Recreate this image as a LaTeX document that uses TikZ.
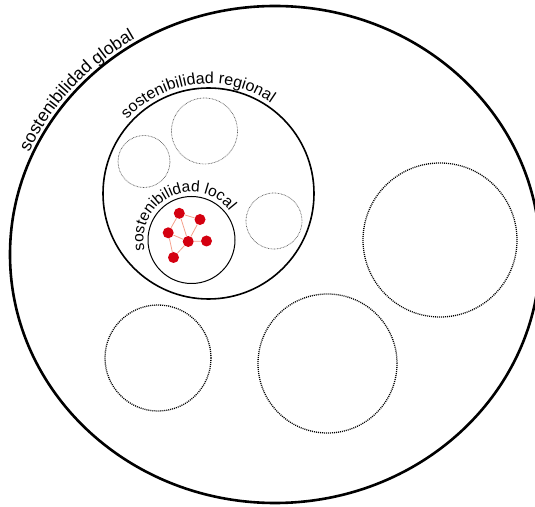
\documentclass[tikz,border=0pt]{standalone}
\usepackage{fontspec}
\setmainfont{Liberation Sans}
\usetikzlibrary{decorations.text}
\definecolor{nodered}{RGB}{212,0,16}
\definecolor{linkred}{RGB}{244,160,140}

\begin{document}
\begin{tikzpicture}[x=1pt,y=1pt,
  vacio/.style={draw=black!65,line width=0.7pt,dash pattern=on 0.7pt off 0.8pt},
  vaciog/.style={draw=black,line width=1.3pt,dash pattern=on 1pt off 1pt},
  actor/.style={circle,fill=nodered,inner sep=0pt,minimum size=11pt},
  enlace/.style={linkred,line width=0.8pt},
  etiqueta/.style={decorate,decoration={text along path,text align=center,text={#1}}}]
\clip (0,0) rectangle (535,506);
% niveles
\draw[line width=2.6pt] (275,251.5) ellipse [x radius=265pt,y radius=248.5pt];
\draw[line width=1.6pt] (208.5,312.5) circle (105.5pt);
\draw[line width=1pt] (191.5,266) circle (43.5pt);
% otras regiones / localidades
\foreach \x/\y/\r in {204.5/375/33, 144/344.5/26, 274/285/28}{
  \draw[vacio] (\x,\y) circle (\r pt);
}
\foreach \x/\y/\r in {440/266/77, 158/148/53, 327.5/142.5/69.5}{
  \draw[vaciog] (\x,\y) circle (\r pt);
}
% etiquetas
\path[etiqueta={|\fontsize{17.5}{17.5}\selectfont|sostenibilidad global}]
  (275,251.5) ++(170:269pt and 252.5pt) arc[start angle=170,end angle=108,x radius=269pt,y radius=252.5pt];
\path[etiqueta={|\fontsize{16}{16}\selectfont|sostenibilidad regional}]
  (208.5,312.5) ++(150:110pt) arc[start angle=150,end angle=43,radius=110pt];
\path[etiqueta={|\fontsize{15.5}{15.5}\selectfont|sostenibilidad local}]
  (191.5,266) ++(230:48pt) arc[start angle=230,end angle=0,radius=48pt];
% red local
\foreach \n/\p in {a/{179.3,292.7}, b/{200,286.5}, c/{168.2,273.2}, d/{188.2,264.5}, e/{206.5,265}, f/{173.5,248.5}}
  \node[actor] (\n) at (\p) {};
\foreach \u/\v in {a/b, a/c, a/d, b/d, c/d, d/e, c/f, d/f}
  \draw[enlace] (\u) -- (\v);
\end{tikzpicture}
\end{document}
